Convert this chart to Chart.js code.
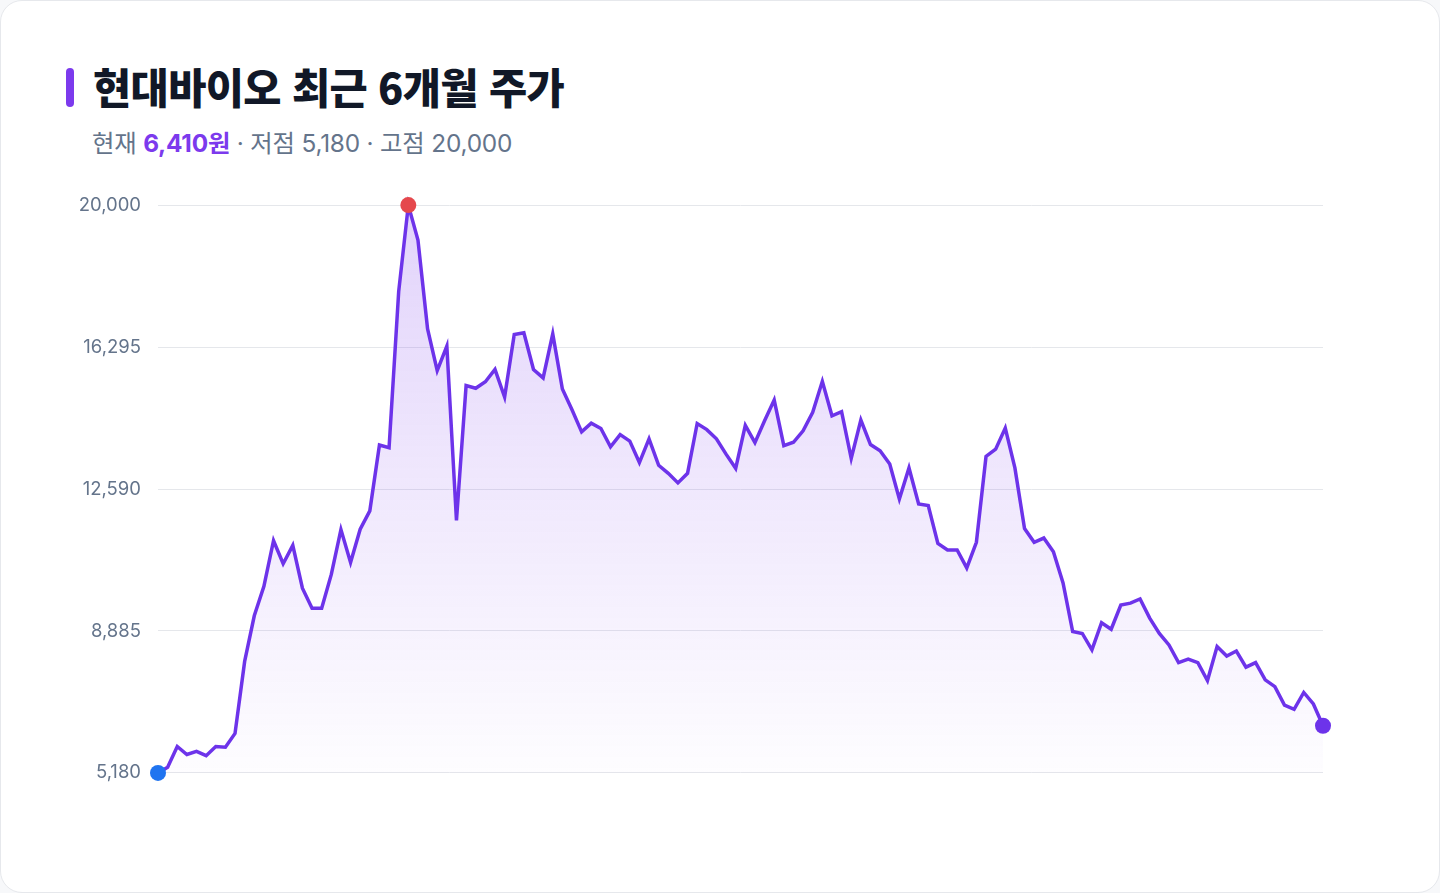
<!DOCTYPE html>
<html lang="ko">
<head>
<meta charset="utf-8">
<title>현대바이오 최근 6개월 주가</title>
<script src="https://cdn.jsdelivr.net/npm/chart.js@4.4.1/dist/chart.umd.min.js"></script>
<style>
  html, body {
    margin: 0;
    padding: 0;
    width: 1440px;
    height: 893px;
    background: #f7f8fa;
    font-family: Inter, "Noto Sans CJK KR", sans-serif;
  }
  .card {
    position: absolute;
    left: 0;
    top: 0;
    width: 1438px;
    height: 891px;
    background: #fff;
    border: 1px solid #e6e8ec;
    border-radius: 22px;
  }
  .bar {
    position: absolute;
    left: 65px;
    top: 67px;
    width: 8px;
    height: 39px;
    border-radius: 4px;
    background: #7c3aed;
  }
  h1 {
    position: absolute;
    left: 92px;
    top: 58px;
    margin: 0;
    font-family: "Noto Sans CJK KR", sans-serif;
    font-size: 41.5px;
    line-height: 54px;
    font-weight: 800;
    letter-spacing: -0.6px;
    color: #111827;
  }
  .sub {
    position: absolute;
    left: 91px;
    top: 126px;
    font-size: 24.4px;
    line-height: 32px;
    color: #64748b;
    letter-spacing: -0.2px;
  }
  .sub b {
    color: #7c3aed;
    font-weight: 700;
  }
  .wrap {
    position: absolute;
    left: 60px;
    top: 176px;
    width: 1280px;
    height: 624px;
  }
</style>
</head>
<body>
<div class="card">
  <div class="bar"></div>
  <h1>현대바이오 최근 6개월 주가</h1>
  <div class="sub">현재 <b>6,410원</b> · 저점 5,180 · 고점 20,000</div>
  <div class="wrap"><canvas id="priceChart"></canvas></div>
</div>

<script>
//Data
const days = Array.from({length: 122}, (_, i) => 'D' + (i + 1));

const prices = [
  5180, 5330, 5870, 5660, 5740, 5630, 5870, 5850, 6210, 8090,
  9280, 10050, 11240, 10640, 11120, 10000, 9480, 9480, 10360, 11530,
  10670, 11540, 12020, 13740, 13670, 17750, 20000, 19090, 16770, 15680,
  16320, 11770, 15290, 15220, 15390, 15710, 14990, 16620, 16670, 15710,
  15490, 16640, 15200, 14660, 14080, 14310, 14170, 13690, 14010, 13840,
  13280, 13900, 13210, 13000, 12750, 13000, 14300, 14140, 13900, 13500,
  13130, 14250, 13800, 14370, 14910, 13720, 13810, 14110, 14590, 15400,
  14500, 14610, 13390, 14390, 13750, 13590, 13240, 12330, 13140, 12200,
  12160, 11170, 11000, 11000, 10530, 11200, 13440, 13630, 14180, 13140,
  11560, 11200, 11310, 10950, 10140, 8870, 8820, 8390, 9100, 8930,
  9560, 9610, 9720, 9220, 8820, 8520, 8060, 8150, 8060, 7590,
  8480, 8230, 8360, 7940, 8060, 7610, 7430, 6950, 6840, 7280,
  6980, 6410
];

const yTicks = [5180, 8885, 12590, 16295, 20000];

//Markers for low, high and latest price
const lowIdx = prices.indexOf(Math.min(...prices));
const highIdx = prices.indexOf(Math.max(...prices));
const lastIdx = prices.length - 1;

const pointColor = (i) => {
  if (i === lowIdx) return '#1f74f0';
  if (i === highIdx) return '#e5484d';
  if (i === lastIdx) return '#6d33ea';
  return 'transparent';
};

const priceChart = document.getElementById('priceChart');

new Chart(priceChart, {
  type: 'line',
  data: {
    labels: days,
    datasets: [
      {
        data: prices,
        borderColor: '#6d33ea',
        borderWidth: 3.5,
        tension: 0,
        fill: 'start',
        clip: false,
        backgroundColor: (ctx) => {
          const area = ctx.chart.chartArea;
          if (!area) return 'rgba(124,58,237,0.1)';
          const g = ctx.chart.ctx.createLinearGradient(0, area.top, 0, area.bottom);
          g.addColorStop(0, 'rgba(124,58,237,0.22)');
          g.addColorStop(1, 'rgba(124,58,237,0.01)');
          return g;
        },
        pointRadius: prices.map((_, i) => pointColor(i) === 'transparent' ? 0 : 8),
        pointHoverRadius: 0,
        pointBorderWidth: 0,
        pointBackgroundColor: prices.map((_, i) => pointColor(i))
      }
    ]
  },
  options: {
    responsive: true,
    maintainAspectRatio: false,
    animation: false,
    layout: {
      padding: { top: 0, bottom: 0, right: 18, left: 0 }
    },
    plugins: {
      legend: { display: false },
      tooltip: { enabled: false }
    },
    scales: {
      x: {
        display: false,
        offset: false
      },
      y: {
        min: 5180,
        max: 20000,
        afterFit: (scale) => { scale.width = 97; },
        afterBuildTicks: (scale) => {
          scale.ticks = yTicks.map((v) => ({ value: v }));
        },
        border: { display: false },
        grid: {
          color: '#e5e7eb',
          lineWidth: 1,
          drawTicks: false
        },
        ticks: {
          padding: 17,
          color: '#64748b',
          font: { family: 'Inter', size: 18.5 },
          callback: (v) => v.toLocaleString('en-US')
        }
      }
    }
  }
});
</script>
</body>
</html>
